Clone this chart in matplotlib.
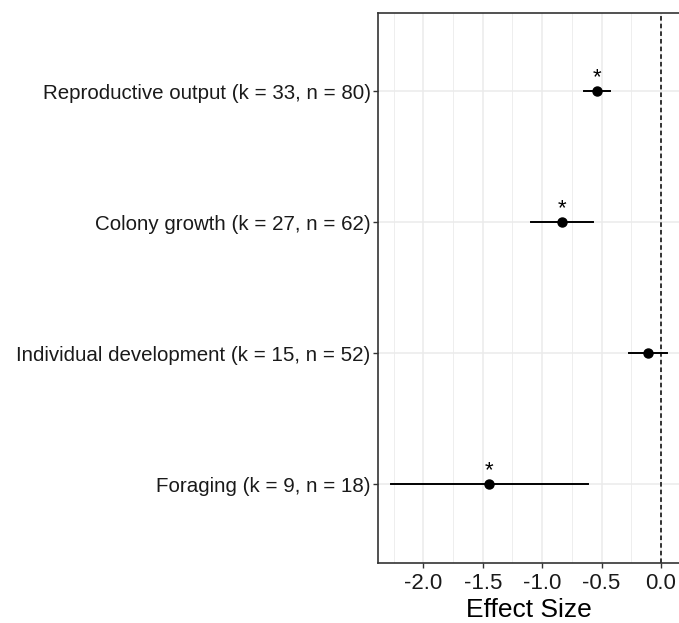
import matplotlib
matplotlib.use("Agg")
from matplotlib import pyplot as plt
from matplotlib.ticker import MultipleLocator
import numpy as np

plt.rcParams['font.family'] = ['Liberation Sans', 'DejaVu Sans']

# data
labels = ['Reproductive output (k = 33, n = 80)',
          'Colony growth (k = 27, n = 62)',
          'Individual development (k = 15, n = 52)',
          'Foraging (k = 9, n = 18)']
effect = [-0.54, -0.83, -0.11, -1.45]
ci_low = [-0.65, -1.09, -0.27, -2.27]
ci_high = [-0.43, -0.575, 0.05, -0.61]
signif = [True, True, False, True]

fig = plt.figure(figsize=(6.79, 6.23), dpi=100)
W, H = 679.0, 623.0
# plot is cropped on the right side, so axes goes to figure edge
ax = fig.add_axes([378.3 / W, 1 - 562.7 / H, (679 - 378.3) / W, (562.7 - 12.7) / H])

y = np.arange(len(labels), 0, -1)

ax.set_xlim(-2.379, -2.379 + (679 - 378.3) / 118.8)
ax.set_ylim(0.4, 4.6)
ax.xaxis.set_major_locator(MultipleLocator(0.5))
ax.xaxis.set_minor_locator(MultipleLocator(0.25))
ax.set_yticks(y)
ax.set_yticklabels(labels)
ax.xaxis.set_major_formatter(plt.FuncFormatter(lambda v, p: '%.1f' % v))

ax.grid(True, which='major', color='#ebebeb', linewidth=1.1)
ax.grid(True, which='minor', axis='x', color='#ebebeb', linewidth=0.6)
ax.set_axisbelow(True)

ax.axvline(0, color='black', linestyle=(0, (3, 2)), linewidth=1.1, zorder=2)

for yi, e, lo, hi, s in zip(y, effect, ci_low, ci_high, signif):
    ax.plot([lo, hi], [yi, yi], color='black', linewidth=1.4, zorder=3)
    ax.plot(e, yi, 'o', color='black', markersize=6.5, zorder=4)
    if s:
        ax.text(e, yi + 0.02, '*', ha='center', va='bottom', fontsize=16, color='black')

for sp in ax.spines.values():
    sp.set_color('#333333')
    sp.set_linewidth(1.2)
ax.spines['right'].set_visible(False)

ax.tick_params(axis='both', which='major', length=3.5, width=1, color='#333333',
               labelcolor='#1a1a1a', pad=2)
ax.tick_params(axis='y', labelsize=14.8)
ax.tick_params(axis='x', labelsize=16, pad=4)
ax.tick_params(axis='x', which='minor', length=0)
ax.set_xlabel('Effect Size', fontsize=19, color='black', labelpad=3)

fig.savefig('out.png', dpi=100)
